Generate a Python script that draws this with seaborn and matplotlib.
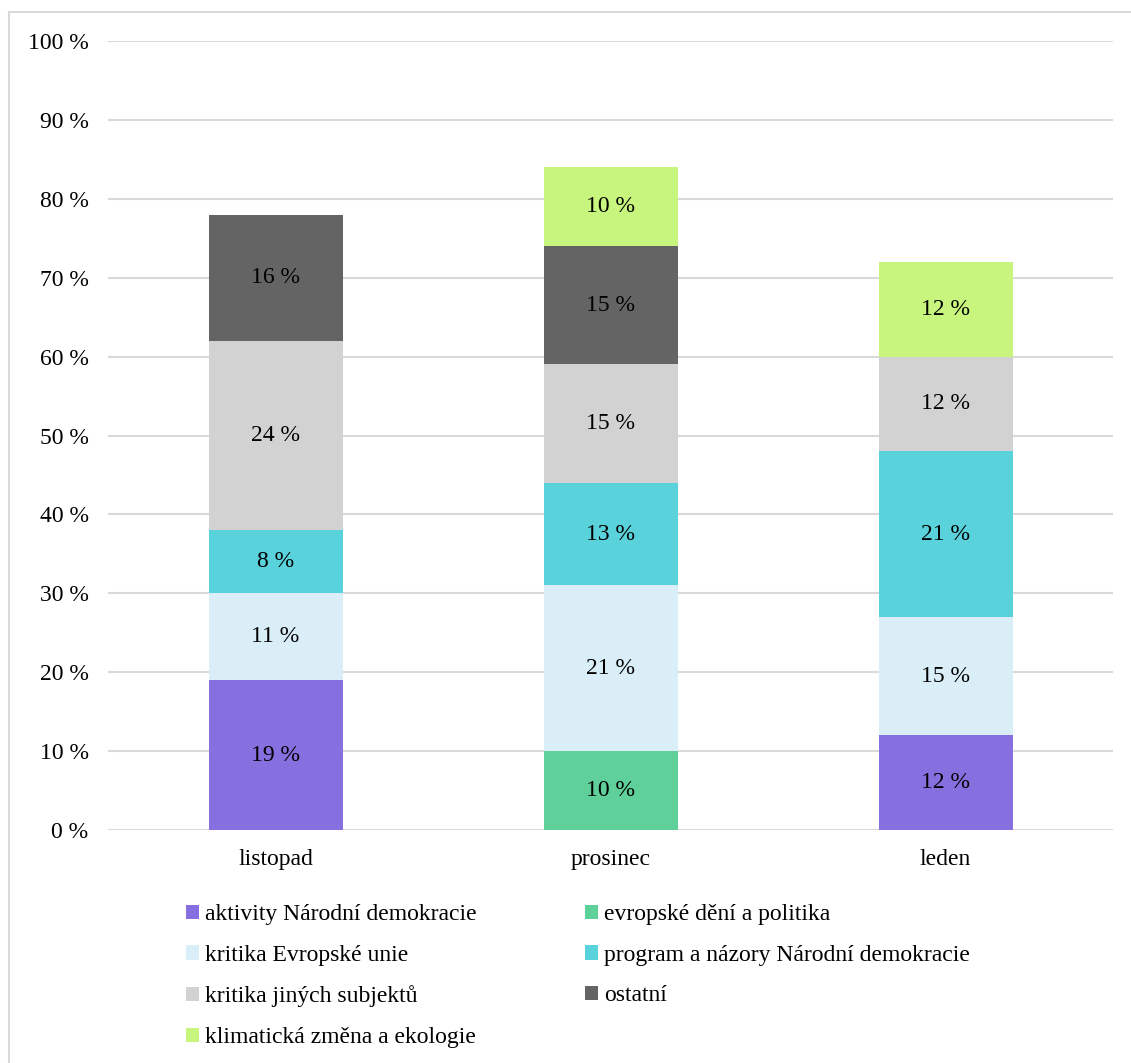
import numpy as np
import pandas as pd
import matplotlib
matplotlib.use("Agg")
import matplotlib.pyplot as plt
from matplotlib.lines import Line2D
from matplotlib.patches import Patch
import seaborn as sns

# Months (x categories)
MONTHS = ["listopad", "prosinec", "leden"]

# Topic series, in stacking order (bottom to top)
TOPICS = [
    "aktivity Národní demokracie",
    "evropské dění a politika",
    "kritika Evropské unie",
    "program a názory Národní demokracie",
    "kritika jiných subjektů",
    "ostatní",
    "klimatická změna a ekologie",
]

# Share of posts per topic (%), per month
aktivity = [19, 0, 12]
evropske = [0, 10, 0]
kritika_eu = [11, 21, 15]
program = [8, 13, 21]
kritika_jinych = [24, 15, 12]
ostatni = [16, 15, 0]
klima = [0, 10, 12]

COLORS = ["#8670E0", "#5FD09A", "#DAEEF8", "#5AD2DC", "#D2D2D2", "#646464", "#C7F57D"]

sns.set_style("white")
plt.rcParams["font.family"] = ["Liberation Serif", "DejaVu Serif"]
plt.rcParams["text.color"] = "black"

series = [aktivity, evropske, kritika_eu, program, kritika_jinych, ostatni, klima]

fig = plt.figure(figsize=(11.31, 10.63), dpi=100)
ax = fig.add_axes([108 / 1131, 233 / 1063, 1005 / 1131, 789 / 1063])

bottom = np.zeros(len(MONTHS))
for topic, vals, color in zip(TOPICS, series, COLORS):
    df = pd.DataFrame({"month": MONTHS, "value": vals})
    sns.barplot(data=df, x="month", y="value", order=MONTHS, color=color,
                width=0.4, bottom=bottom, ax=ax, saturation=1,
                linewidth=0, errorbar=None)
    labels = [f"{v} %" if v > 0 else "" for v in vals]
    ax.bar_label(ax.containers[-1], labels=labels, label_type="center",
                 fontsize=17, color="black")
    bottom = bottom + np.array(vals)

ax.set_ylim(0, 100)
ax.set_xlim(-0.5, 2.5)
ax.set_yticks(range(0, 101, 10))
ax.set_yticklabels([f"{t} %" for t in range(0, 101, 10)])
ax.yaxis.grid(True, color="#D9D9D9", linewidth=1.5)
ax.set_axisbelow(True)
ax.tick_params(axis="both", length=0, labelsize=17, colors="black")
ax.tick_params(axis="y", pad=14)
ax.tick_params(axis="x", pad=14)
ax.set_xlabel("")
ax.set_ylabel("")
for s in ax.spines.values():
    s.set_visible(False)

# legend: column-wise filling, reorder so rows match reference
leg_order = [0, 2, 4, 6, 1, 3, 5]
handles = [Patch(facecolor=COLORS[i], edgecolor="none") for i in leg_order]
fig.legend(handles, [TOPICS[i] for i in leg_order], ncol=2, frameon=False,
           loc="upper left", bbox_to_anchor=(165 / 1131, 1 - 883 / 1063),
           fontsize=17, handlelength=0.55, handleheight=0.55, handletextpad=0.25,
           columnspacing=4.6, labelspacing=0.83, labelcolor="black")

# chart frame (only top and left edges visible)
fig.add_artist(Line2D([9 / 1131, 1.0], [1 - 12 / 1063] * 2, color="#D9D9D9",
                      linewidth=1.5, transform=fig.transFigure))
fig.add_artist(Line2D([9 / 1131] * 2, [0, 1 - 12 / 1063], color="#D9D9D9",
                      linewidth=1.5, transform=fig.transFigure))

fig.savefig("out.png", dpi=100)
